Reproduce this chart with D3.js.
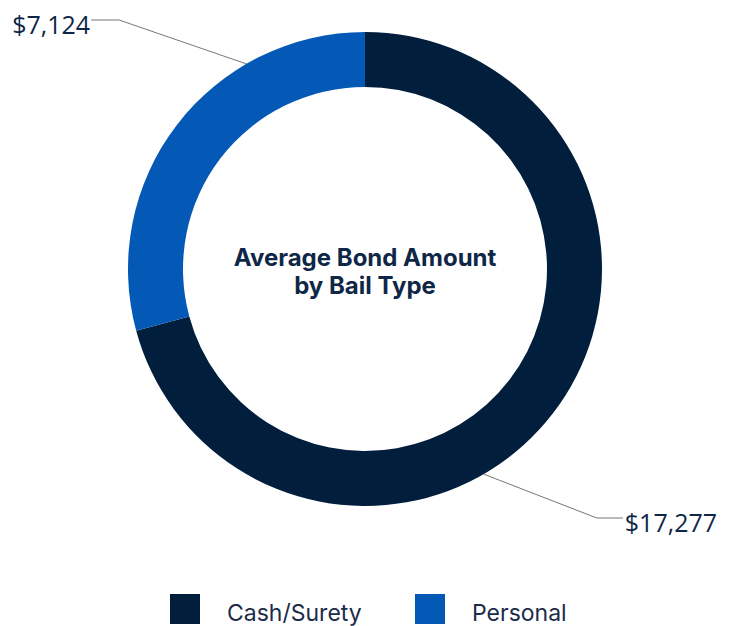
<!DOCTYPE html>
<html>
<head>
<meta charset="utf-8">
<script src="https://cdn.jsdelivr.net/npm/d3@7"></script>
<style>
  body { margin: 0; background: #fff; }
  svg { display: block; }
</style>
</head>
<body>
<div id="chart"></div>
<script>
// data
var categories = ["Cash/Surety", "Personal"];
var amounts = [17277, 7124];
var colors = ["#011e3c", "#0459b6"];
var titleLines = ["Average Bond Amount", "by Bail Type"];

var width = 733, height = 626;
var cx = 365, cy = 269;
var outerR = 237, innerR = 182;

var svg = d3.select("#chart").append("svg")
    .attr("width", width)
    .attr("height", height);

var data = categories.map(function(c, i) { return { name: c, value: amounts[i], color: colors[i] }; });

var pie = d3.pie().sort(null).value(function(d) { return d.value; });
var arc = d3.arc().innerRadius(innerR).outerRadius(outerR);

var g = svg.append("g").attr("transform", "translate(" + cx + "," + cy + ")");

var slices = pie(data);

g.selectAll("path.slice")
  .data(slices)
  .enter().append("path")
    .attr("class", "slice")
    .attr("d", arc)
    .attr("fill", function(d) { return d.data.color; });

// leader lines + value labels
// (the original points its connectors a bit past the slice middle,
//  and the first leg runs at a shallow slant rather than radially)
var labelShift = Math.PI / 8;
var fmt = d3.format("$,");

slices.forEach(function(d) {
  var a = (d.startAngle + d.endAngle) / 2 + labelShift;
  var sx = Math.sin(a), sy = -Math.cos(a);
  var right = sx > 0;
  var slant = right ? 2.58 : 2.9;
  var p0 = [sx * outerR, sy * outerR];
  var elbowY = (sy > 0 ? 1 : -1) * (outerR + 12);
  var p1 = [p0[0] + (right ? 1 : -1) * Math.abs(elbowY - p0[1]) * slant, elbowY];
  var p2 = [p1[0] + (right ? 26 : -28), p1[1]];

  g.append("polyline")
    .attr("points", [p0, p1, p2].map(function(p) { return p.join(","); }).join(" "))
    .attr("fill", "none")
    .attr("stroke", "#777")
    .attr("stroke-width", 1);

  g.append("text")
    .attr("x", p2[0] + (right ? 2 : -1))
    .attr("y", p2[1] + 14)
    .attr("text-anchor", right ? "start" : "end")
    .attr("font-family", "Open Sans")
    .attr("font-size", 25)
    .attr("fill", "#0f2747")
    .text(fmt(d.data.value));
});

// centre title
var title = g.append("text")
  .attr("text-anchor", "middle")
  .attr("font-family", "Inter")
  .attr("font-weight", "bold")
  .attr("font-size", 24)
  .attr("fill", "#0f2747");

titleLines.forEach(function(t, i) {
  title.append("tspan")
    .attr("x", 0)
    .attr("y", -3 + i * 28)
    .text(t);
});

// legend
var legendX = [170, 415];
var legend = svg.selectAll("g.legend")
  .data(data)
  .enter().append("g")
    .attr("class", "legend")
    .attr("transform", function(d, i) { return "translate(" + legendX[i] + ",594)"; });

legend.append("rect")
  .attr("width", 30)
  .attr("height", 30)
  .attr("fill", function(d) { return d.color; });

legend.append("text")
  .attr("x", 57)
  .attr("y", 27)
  .attr("font-family", "Inter")
  .attr("font-size", 23)
  .attr("fill", "#1c2b4a")
  .text(function(d) { return d.name; });
</script>
</body>
</html>
